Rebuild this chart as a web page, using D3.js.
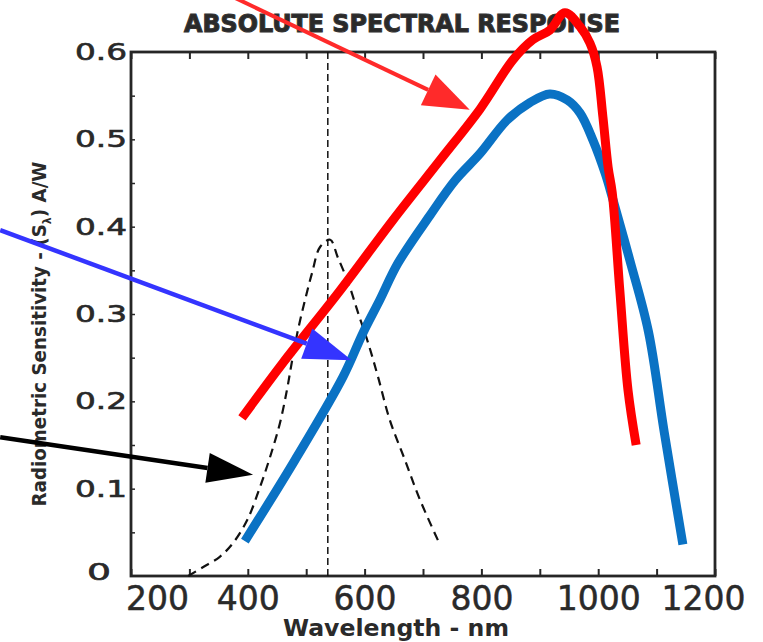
<!DOCTYPE html>
<html>
<head>
<meta charset="utf-8">
<script src="https://cdn.jsdelivr.net/npm/d3@7"></script>
<style>
  html, body { margin: 0; padding: 0; background: #fff; }
  svg { display: block; }
  text { fill: #2a2a2a; }
</style>
</head>
<body>
<svg id="chart" width="763" height="642"></svg>
<script>
// Absolute spectral response of a silicon photodiode (A/W vs wavelength)

// wavelength (nm) / responsivity (A/W) pairs
const redWavelength  = [390, 460, 558, 649, 729, 798, 854, 888, 917, 943, 969, 986, 998, 1008, 1017, 1024, 1037, 1051, 1065];
const redResponse    = [0.181, 0.244, 0.327, 0.408, 0.476, 0.535, 0.591, 0.614, 0.625, 0.645, 0.629, 0.610, 0.583, 0.526, 0.468, 0.439, 0.327, 0.213, 0.150];

const blueWavelength = [395, 481, 563, 597, 626, 657, 712, 755, 798, 844, 883, 917, 947, 969, 991, 1012, 1024, 1054, 1086, 1113, 1145];
const blueResponse   = [0.040, 0.133, 0.228, 0.278, 0.316, 0.358, 0.413, 0.453, 0.484, 0.522, 0.542, 0.552, 0.545, 0.530, 0.499, 0.461, 0.434, 0.362, 0.280, 0.165, 0.036];

// photopic eye response, dashed bell curve
const eyeWavelength  = [298, 323, 352, 375, 399, 421, 438, 455, 467, 476, 486, 498, 510, 524, 541, 554, 572, 589, 606, 623, 643, 669, 695, 729];
const eyeResponse    = [0.000, 0.010, 0.022, 0.038, 0.064, 0.102, 0.136, 0.175, 0.213, 0.247, 0.282, 0.316, 0.347, 0.377, 0.385, 0.365, 0.336, 0.301, 0.267, 0.228, 0.179, 0.133, 0.087, 0.036];

const peakWavelength = 537;

const xTicks      = [200, 300, 400, 500, 600, 700, 800, 900, 1000, 1100, 1200];
const xTickLabels = ["200", "", "400", "", "600", "", "800", "", "1000", "", "1200"];
const yTicks      = [0, 0.1, 0.2, 0.3, 0.4, 0.5, 0.6];
const yTickLabels = ["0", "0.1", "0.2", "0.3", "0.4", "0.5", "0.6"];

// annotation arrows: [start wavelength, start value, tip wavelength, tip value]
const arrowRed   = [378, 0.662, 780, 0.534];
const arrowBlue  = [-24, 0.396, 578, 0.247];
const arrowBlack = [-24, 0.159, 409, 0.116];

const svg = d3.select("#chart");

const x = d3.scaleLinear().domain([200, 1200]).range([131, 715]);
const y = d3.scaleLinear().domain([0, 0.6]).range([576, 52]);

const ink = "#262626";

// frame
svg.append("rect")
  .attr("x", x(200)).attr("y", y(0.6))
  .attr("width", x(1200) - x(200)).attr("height", y(0) - y(0.6))
  .attr("fill", "none").attr("stroke", ink).attr("stroke-width", 2.8);

// bottom axis with inward ticks
const bottomAxis = d3.axisBottom(x).tickValues(xTicks)
  .tickSizeInner(-7).tickSizeOuter(0).tickPadding(14)
  .tickFormat((d, i) => xTickLabels[i]);
const gb = svg.append("g").attr("transform", `translate(0,${y(0)})`).call(bottomAxis);
gb.select(".domain").remove();
gb.selectAll("line").attr("stroke", ink).attr("stroke-width", 2);
gb.selectAll("text")
  .attr("font-family", "DejaVu Sans").attr("font-size", 33)
  .attr("fill", ink).attr("stroke", ink).attr("stroke-width", 0.5)
  .attr("dy", "0.6em")
  .attr("dx", (d, i) => i === 0 ? 26 : (i === xTicks.length - 1 ? -12 : 0));

// top axis ticks only
const topAxis = d3.axisTop(x).tickValues(xTicks)
  .tickSizeInner(-7).tickSizeOuter(0).tickFormat("");
const gt = svg.append("g").attr("transform", `translate(0,${y(0.6)})`).call(topAxis);
gt.select(".domain").remove();
gt.selectAll("line").attr("stroke", ink).attr("stroke-width", 2);

// left axis with labels and minor inward ticks
const leftAxis = d3.axisLeft(y).tickValues(yTicks)
  .tickSizeInner(0).tickSizeOuter(0).tickPadding(4)
  .tickFormat((d, i) => yTickLabels[i]);
const gl = svg.append("g").attr("transform", `translate(${x(200)},0)`).call(leftAxis);
gl.select(".domain").remove();
gl.selectAll("text")
  .attr("font-family", "DejaVu Sans").attr("font-size", 23)
  .attr("fill", ink).attr("stroke", ink).attr("stroke-width", 0.6)
  .attr("dx", (d, i) => i === 0 ? -16 : 0)
  .attr("dy", (d, i) => i === 0 ? "0.15em" : "0.32em")
  .attr("textLength", (d, i) => yTickLabels[i].length === 1 ? 24 : 52)
  .attr("lengthAdjust", "spacingAndGlyphs");

const minor = d3.range(0.05, 0.6, 0.05);
const gm = svg.append("g").attr("transform", `translate(${x(200)},0)`)
  .call(d3.axisRight(y).tickValues(minor).tickSizeInner(4).tickSizeOuter(0).tickFormat(""));
gm.select(".domain").remove();
gm.selectAll("line").attr("stroke", ink).attr("stroke-width", 1.5);

// titles
svg.append("text")
  .attr("x", 402).attr("y", 32)
  .attr("text-anchor", "middle")
  .attr("font-family", "DejaVu Sans Condensed, DejaVu Sans").attr("font-weight", "bold")
  .attr("font-size", 25).attr("fill", "#333").attr("stroke", "#333").attr("stroke-width", 1)
  .attr("textLength", 436).attr("lengthAdjust", "spacingAndGlyphs")
  .text("ABSOLUTE SPECTRAL RESPONSE");

svg.append("text")
  .attr("x", 396).attr("y", 636)
  .attr("text-anchor", "middle")
  .attr("font-family", "DejaVu Sans").attr("font-weight", "bold")
  .attr("font-size", 23).attr("fill", "#333")
  .attr("textLength", 226).attr("lengthAdjust", "spacingAndGlyphs")
  .text("Wavelength - nm");

const yl = svg.append("text")
  .attr("transform", "translate(46,334) rotate(-90)")
  .attr("text-anchor", "middle")
  .attr("font-family", "DejaVu Sans Condensed, DejaVu Sans").attr("font-weight", "bold")
  .attr("font-size", 20).attr("fill", "#333")
  .attr("textLength", 345).attr("lengthAdjust", "spacingAndGlyphs");
yl.append("tspan").text("Radiometric Sensitivity - (S");
yl.append("tspan").attr("font-size", 12).attr("dy", 5).text("λ");
yl.append("tspan").attr("dy", -5).text(") A/W");

// dashed reference line at the eye-response peak
svg.append("line")
  .attr("x1", x(peakWavelength)).attr("x2", x(peakWavelength))
  .attr("y1", y(0.6)).attr("y2", y(0))
  .attr("stroke", "#111").attr("stroke-width", 1.5).attr("stroke-dasharray", "7,4");

const line = d3.line().x(d => x(d[0])).y(d => y(d[1])).curve(d3.curveCatmullRom.alpha(0.5));

svg.append("path")
  .attr("d", line(d3.zip(eyeWavelength, eyeResponse)))
  .attr("fill", "none").attr("stroke", "#111").attr("stroke-width", 2.2)
  .attr("stroke-dasharray", "9,6");

svg.append("path")
  .attr("d", line(d3.zip(blueWavelength, blueResponse)))
  .attr("fill", "none").attr("stroke", "#0a72c4").attr("stroke-width", 9);

svg.append("path")
  .attr("d", line(d3.zip(redWavelength, redResponse)))
  .attr("fill", "none").attr("stroke", "#ff0000").attr("stroke-width", 9)
  .attr("stroke-linejoin", "round");

// annotation arrows
function arrow(a, color, width, headLen, headHalf) {
  const x0 = x(a[0]), y0 = y(a[1]), x1 = x(a[2]), y1 = y(a[3]);
  const ang = Math.atan2(y1 - y0, x1 - x0);
  const bx = x1 - headLen * Math.cos(ang), by = y1 - headLen * Math.sin(ang);
  const nx = -Math.sin(ang), ny = Math.cos(ang);
  svg.append("line")
    .attr("x1", x0).attr("y1", y0).attr("x2", bx).attr("y2", by)
    .attr("stroke", color).attr("stroke-width", width);
  svg.append("path")
    .attr("d", `M${x1},${y1}L${bx + nx * headHalf},${by + ny * headHalf}L${bx - nx * headHalf},${by - ny * headHalf}Z`)
    .attr("fill", color);
}
arrow(arrowRed, "#ff2a2a", 4, 46, 17);
arrow(arrowBlue, "#3434ff", 4.5, 48, 16);
arrow(arrowBlack, "#000", 4.5, 46, 15);
</script>
</body>
</html>
